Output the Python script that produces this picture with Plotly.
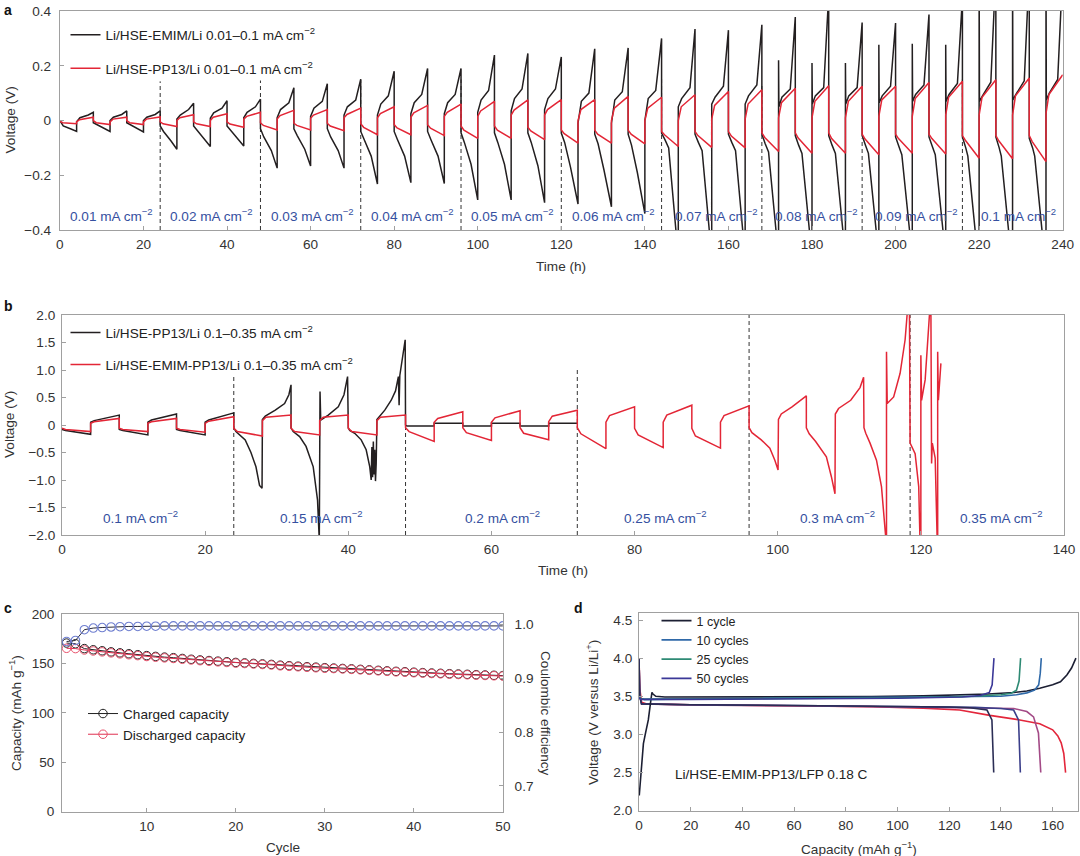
import plotly.graph_objects as go

W, H = 1080, 856
def px(x): return x / W
def py(y): return 1 - y / H

FONT = "Liberation Sans, Arial, sans-serif"
FS = 13.6
BLACK = "#231f20"
RED = "#e32636"
BLUE_TXT = "#3550a0"
CM2 = "mA cm<sup>\u22122</sup>"

# ---------------- Panel a data (half-cycles of 4 h) ----------------
A_HALF_T0 = [0, 4, 8, 12, 16, 20, 24, 28, 32, 36, 40, 44, 48, 52, 56, 60, 64, 68,
             72, 76, 80, 84, 88, 92, 96, 100, 104, 108, 112, 116, 120, 124, 128, 132,
             136, 140, 144, 148, 152, 156, 160, 164, 168, 172, 176, 180, 184, 188,
             192, 196, 200, 204, 208, 212, 216, 220, 224, 228, 232, 236]
A_HALF_DUR = 4
# black (Li/HSE-EMIM/Li): value after jump, at +0.8 h, at knee, at end
A_BLK_V0 = [0.0, -0.005, -0.008, 0.0, -0.008, 0.0,
            -0.02, 0.005, -0.02, 0.008, -0.02, 0.01,
            -0.03, 0.01, -0.03, 0.015, -0.03, 0.02,
            -0.04, 0.02, -0.04, 0.025, -0.04, 0.025,
            -0.045, 0.03, -0.045, 0.035, -0.045, 0.04,
            -0.046, -0.01, -0.05, -0.01, -0.05, 0.0,
            -0.046, 0.05, -0.05, 0.06, -0.05, 0.06,
            -0.05, 0.05, -0.055, 0.06, -0.055, 0.06,
            -0.055, 0.065, -0.06, 0.07, -0.06, 0.07,
            -0.06, 0.07, -0.06, 0.075, -0.065, 0.075]
A_BLK_V1 = [-0.02, 0.01, -0.015, 0.012, -0.015, 0.012,
            -0.04, 0.02, -0.035, 0.028, -0.035, 0.03,
            -0.06, 0.04, -0.055, 0.045, -0.06, 0.05,
            -0.07, 0.06, -0.07, 0.065, -0.07, 0.065,
            -0.08, 0.075, -0.08, 0.08, -0.08, 0.08,
            -0.08, 0.07, -0.085, 0.075, -0.09, 0.08,
            -0.07, 0.08, -0.08, 0.085, -0.08, 0.09,
            -0.085, 0.085, -0.09, 0.09, -0.09, 0.09,
            -0.09, 0.09, -0.095, 0.095, -0.095, 0.095,
            -0.1, 0.09, -0.1, 0.095, -0.1, 0.1]
A_BLK_TK = [2.8, 2.8, 2.8, 2.8, 2.8, 2.8,
            2.6, 2.8, 2.6, 2.8, 2.6, 2.8,
            2.6, 2.8, 2.6, 2.8, 2.6, 2.8,
            2.5, 2.6, 2.5, 2.6, 2.5, 2.6,
            2.4, 2.6, 2.4, 2.6, 2.4, 2.6,
            2.2, 2.6, 2.2, 2.6, 2.2, 2.6,
            1.7, 2.8, 1.7, 2.8, 1.7, 2.8,
            1.6, 2.8, 1.6, 2.8, 1.6, 2.8,
            1.5, 2.8, 1.5, 2.8, 1.5, 2.8,
            1.3, 2.8, 1.3, 2.8, 1.3, 2.8]
A_BLK_V2 = [-0.032, 0.02, -0.03, 0.022, -0.03, 0.022,
            -0.075, 0.04, -0.065, 0.045, -0.065, 0.05,
            -0.11, 0.065, -0.105, 0.07, -0.11, 0.075,
            -0.13, 0.09, -0.13, 0.095, -0.13, 0.095,
            -0.16, 0.11, -0.16, 0.115, -0.165, 0.115,
            -0.17, 0.1, -0.18, 0.105, -0.19, 0.11,
            -0.1, 0.12, -0.11, 0.125, -0.11, 0.13,
            -0.115, 0.115, -0.12, 0.12, -0.12, 0.12,
            -0.12, 0.125, -0.125, 0.13, -0.125, 0.135,
            -0.13, 0.14, -0.13, 0.145, -0.13, 0.15]
A_BLK_V3 = [-0.04, 0.03, -0.04, 0.035, -0.042, 0.035,
            -0.105, 0.063, -0.095, 0.072, -0.093, 0.078,
            -0.174, 0.12, -0.166, 0.134, -0.174, 0.151,
            -0.232, 0.18, -0.227, 0.19, -0.23, 0.19,
            -0.29, 0.239, -0.29, 0.245, -0.30, 0.232,
            -0.305, 0.262, -0.315, 0.265, -0.34, 0.30,
            -0.5, 0.334, -0.5, 0.33, -0.5, 0.35,
            -0.5, 0.378, -0.5, 0.46, -0.5, 0.358,
            -0.5, 0.356, -0.5, 0.387, -0.5, 0.45,
            -0.55, 0.55, -0.55, 0.55, -0.55, 0.55]
A_BLK_SPIKE = [None] * 43 + [0.22, None, 0.21, None, 0.21, None, 0.277, None, 0.28,
                             None, 0.277, None, 0.6, None, 0.6, None, 0.6]
# red (Li/HSE-PP13/Li): value after jump, at +0.7 h, at end
A_RED_V0 = [-0.003, -0.005, 0.0, -0.005, 0.0, -0.005,
            -0.005, 0.0, -0.005, 0.0, -0.005, 0.005,
            -0.008, 0.005, -0.01, 0.008, -0.01, 0.01,
            -0.012, 0.01, -0.015, 0.012, -0.015, 0.015,
            -0.02, 0.015, -0.02, 0.02, -0.025, 0.02,
            -0.035, 0.0, -0.035, 0.0, -0.035, 0.0,
            -0.04, 0.0, -0.04, 0.005, -0.04, 0.005,
            -0.045, 0.01, -0.045, 0.01, -0.045, 0.01,
            -0.05, 0.015, -0.05, 0.015, -0.05, 0.02,
            -0.055, 0.02, -0.055, 0.02, -0.055, 0.025]
A_RED_V1 = [-0.008, 0.003, -0.008, 0.005, -0.008, 0.005,
            -0.012, 0.01, -0.012, 0.012, -0.013, 0.015,
            -0.018, 0.018, -0.018, 0.02, -0.02, 0.022,
            -0.025, 0.025, -0.027, 0.028, -0.028, 0.03,
            -0.035, 0.035, -0.035, 0.038, -0.038, 0.04,
            -0.048, 0.04, -0.05, 0.045, -0.05, 0.045,
            -0.052, 0.05, -0.055, 0.055, -0.057, 0.06,
            -0.062, 0.065, -0.064, 0.07, -0.066, 0.07,
            -0.068, 0.075, -0.066, 0.08, -0.066, 0.085,
            -0.072, 0.085, -0.074, 0.09, -0.077, 0.095]
A_RED_V3 = [-0.012, 0.012, -0.015, 0.012, -0.015, 0.013,
            -0.022, 0.021, -0.022, 0.025, -0.025, 0.03,
            -0.035, 0.037, -0.035, 0.04, -0.037, 0.045,
            -0.052, 0.05, -0.052, 0.055, -0.055, 0.06,
            -0.065, 0.07, -0.065, 0.075, -0.07, 0.076,
            -0.083, 0.076, -0.083, 0.088, -0.085, 0.085,
            -0.095, 0.094, -0.098, 0.106, -0.10, 0.112,
            -0.113, 0.118, -0.12, 0.127, -0.12, 0.125,
            -0.125, 0.125, -0.12, 0.139, -0.122, 0.143,
            -0.138, 0.149, -0.14, 0.155, -0.15, 0.167]
A_DASH_T = [24, 48, 72, 96, 120, 144, 168, 192, 216]
A_DASH_TOP = [0.143, 0.146, 0.149, 0.15, -0.07, 0.155, 0.137, -0.065, 0.155]
A_RATE_LABELS = ["0.01", "0.02", "0.03", "0.04", "0.05", "0.06", "0.07", "0.08", "0.09", "0.1"]
A_RATE_X = [12.4, 36.4, 60.4, 84.4, 108.4, 132.6, 157.2, 181, 205, 229.5]
A_RATE_Y = -0.345

# ---------------- Panel b data ----------------
B_BLK_T = [0, 0.5, 4, 4, 4.5, 8, 8, 8.5, 12, 12, 12.5, 16, 16, 16.5, 20, 20, 20.5, 24,
           24, 24.3, 25.6, 26.4, 27.1, 27.6, 27.95,
           28, 28.4, 29.8, 31.1, 31.7, 32,
           32, 32.3, 33.2, 34.1, 35.1, 35.7, 35.95,
           36.05, 36.15, 37.2, 38.6, 39.4, 39.9,
           40, 40.2, 40.9, 41.8, 42.5, 43.0, 43.2, 43.3, 43.4, 43.5, 43.6, 43.7, 43.8, 43.9,
           44, 44.3, 45.1, 46, 46.6, 47.0, 47.1, 47.2, 47.4, 47.8, 47.95,
           48, 48.2, 52, 52, 56, 56, 60, 60, 64, 64, 68, 68, 72]
B_BLK_V = [-0.08, -0.1, -0.17, 0.05, 0.08, 0.18, -0.08, -0.1, -0.18, 0.05, 0.09, 0.2,
           -0.08, -0.1, -0.18, 0.05, 0.09, 0.22,
           -0.05, -0.12, -0.27, -0.5, -0.76, -1.1, -1.15,
           0.1, 0.16, 0.27, 0.39, 0.55, 0.73,
           -0.05, -0.12, -0.21, -0.39, -0.76, -1.36, -2.1,
           0.61, 0.09, 0.18, 0.33, 0.55, 0.88,
           -0.05, -0.1, -0.15, -0.27, -0.45, -0.76, -1.0, -0.4, -0.95, -0.3, -0.9, -0.45, -1.02, -0.7,
           0.1, 0.15, 0.27, 0.45, 0.62, 0.88, 0.36, 0.9, 1.1, 1.4, 1.55,
           0.0, -0.02, -0.02, 0.03, 0.03, -0.02, -0.02, 0.03, 0.03, -0.02, -0.02, 0.03, 0.03]
B_RED_T = [0, 0.5, 4, 4, 4.5, 8, 8, 8.5, 12, 12, 12.5, 16, 16, 16.5, 20, 20, 20.5, 24,
           24, 24.5, 28, 28, 28.5, 32, 32, 32.5, 36, 36, 36.5, 40, 40, 40.5, 44, 44, 44.5, 48,
           48, 48.5, 52, 52, 52.5, 56, 56, 56.5, 60, 60, 60.5, 64, 64, 64.5, 68, 68, 68.5, 72,
           72, 72.5, 76, 76, 76.5, 80, 80, 80.5, 84, 84, 84.5, 88, 88, 88.5, 92, 92, 92.5, 96,
           96, 96.4, 97.7, 98.9, 99.6, 100.05,
           100.1, 100.5, 102, 104,
           104, 104.4, 105.3, 106.8, 107.5, 108,
           108.05, 108.5, 110.2, 111.5, 112,
           112.05, 112.3, 112.9, 113.8, 114.5, 115.0, 115.1,
           115.2, 115.2, 115.3, 116.2, 117.1, 117.8, 118.2,
           118.4, 118.5, 119.2, 119.7, 119.9,
           120.0, 120.0, 120.1, 120.6, 121.1, 121.3,
           121.4, 121.5, 121.6, 122.0, 122.3,
           122.35, 122.35, 122.45, 122.8]
B_RED_V = [-0.06, -0.08, -0.12, 0.03, 0.06, 0.12, -0.06, -0.08, -0.12, 0.03, 0.06, 0.12,
           -0.06, -0.08, -0.13, 0.03, 0.07, 0.15,
           -0.06, -0.12, -0.2, 0.08, 0.14, 0.18, -0.06, -0.12, -0.18, 0.08, 0.14, 0.18,
           -0.06, -0.12, -0.18, 0.08, 0.14, 0.18,
           -0.05, -0.12, -0.3, 0.05, 0.12, 0.24, -0.05, -0.14, -0.28, 0.05, 0.13, 0.26,
           -0.05, -0.15, -0.27, 0.06, 0.16, 0.27,
           -0.05, -0.16, -0.43, 0.05, 0.17, 0.33, -0.06, -0.18, -0.41, 0.05, 0.18, 0.36,
           -0.06, -0.2, -0.42, 0.05, 0.17, 0.35,
           -0.05, -0.14, -0.27, -0.42, -0.64, -0.82,
           0.1, 0.2, 0.33, 0.53,
           -0.05, -0.16, -0.3, -0.58, -0.94, -1.25,
           0.2, 0.3, 0.45, 0.68, 0.87,
           -0.05, -0.15, -0.33, -0.64, -1.12, -1.9, -2.2,
           -2.2, 1.33, 0.39, 0.51, 0.94, 1.55, 2.2,
           2.2, -0.33, -0.52, -1.12, -2.2,
           -2.2, 1.27, 0.45, 0.82, 1.67, 2.2,
           2.2, -0.7, -0.33, -0.6, -2.2,
           -2.2, 1.33, 0.45, 1.12]
B_DASH_T = [24, 48, 72, 96, 118.5]
B_DASH_TOP = [0.88, 0.0, 1.0, 2.0, 2.0]
B_RATE_LABELS = ["0.1", "0.15", "0.2", "0.25", "0.3", "0.35"]
B_RATE_X = [11.0, 36.2, 61.5, 84.3, 108.4, 131.2]
B_RATE_Y = -1.67
B_YTICKS = [-2.0, -1.5, -1.0, -0.5, 0, 0.5, 1.0, 1.5, 2.0]
B_YTICKTEXT = ["\u22122.0", "\u22121.5", "\u22121.0", "\u22120.5", "0", "0.5", "1.0", "1.5", "2.0"]

# ---------------- Panel c data ----------------
C_CYCLE = list(range(1, 51))
C_CHARGE = [170.6, 169.9, 165.0, 163.8, 162.8, 161.7, 160.7, 159.8, 158.8, 157.9,
            157.1, 156.4, 155.8, 155.0, 154.2, 153.5, 152.9, 152.3, 151.7, 151.0,
            150.5, 150.0, 149.5, 149.0, 148.2, 147.7, 147.2, 146.7, 146.2, 145.7,
            145.3, 144.9, 144.5, 144.0, 143.5, 143.0, 142.5, 142.0, 141.6, 141.1,
            140.7, 140.3, 140.0, 139.6, 139.3, 139.0, 138.6, 138.3, 138.0, 137.7]
C_DISCHARGE = [165.3, 165.0, 163.6, 162.6, 161.7, 160.7, 159.7, 158.8, 157.9, 157.0,
               156.3, 155.6, 155.0, 154.2, 153.5, 152.8, 152.2, 151.6, 151.0, 150.3,
               149.9, 149.4, 148.9, 148.4, 147.6, 147.1, 146.6, 146.1, 145.6, 145.1,
               144.8, 144.4, 144.0, 143.5, 143.0, 142.5, 142.0, 141.5, 141.1, 140.6,
               140.2, 139.8, 139.5, 139.1, 138.8, 138.5, 138.1, 137.8, 137.5, 137.2]
C_CE = [0.968, 0.970, 0.990, 0.993, 0.994, 0.995, 0.9955, 0.996, 0.996, 0.9965,
        0.9965, 0.997, 0.997, 0.997, 0.997, 0.997, 0.997, 0.997, 0.997, 0.997,
        0.997, 0.997, 0.997, 0.997, 0.997, 0.997, 0.997, 0.997, 0.997, 0.997,
        0.997, 0.997, 0.997, 0.997, 0.997, 0.997, 0.997, 0.997, 0.997, 0.997,
        0.997, 0.997, 0.997, 0.997, 0.997, 0.997, 0.997, 0.997, 0.997, 0.997]

# ---------------- Panel d data ----------------
D_CH1_X = [0.1, 0.8, 1.7, 2.6, 3.6, 4.4, 5.0, 5.4, 6.5, 10, 30, 60, 90, 110, 125, 135, 145,
           150, 155, 160, 163, 165.5, 167.3, 169]
D_CH1_Y = [2.2, 2.5, 2.88, 3.03, 3.19, 3.4, 3.55, 3.53, 3.5, 3.49, 3.49, 3.49, 3.495, 3.505,
           3.515, 3.53, 3.55, 3.57, 3.605, 3.65, 3.69, 3.78, 3.87, 4.0]
D_CH10_X = [0, 0.6, 2, 20, 60, 100, 130, 140, 146, 150, 153, 154.6, 155.2, 155.6]
D_CH10_Y = [3.5, 3.47, 3.46, 3.465, 3.47, 3.48, 3.49, 3.5, 3.52, 3.545, 3.58, 3.65, 3.8, 4.0]
D_CH25_X = [0, 0.6, 2, 20, 60, 100, 130, 140, 144, 146, 147, 147.6]
D_CH25_Y = [3.5, 3.47, 3.46, 3.465, 3.47, 3.48, 3.5, 3.52, 3.54, 3.58, 3.7, 4.0]
D_CH50_X = [0, 1, 20, 60, 100, 125, 132, 135.5, 136.6, 137.3]
D_CH50_Y = [3.48, 3.46, 3.46, 3.465, 3.475, 3.49, 3.51, 3.55, 3.65, 4.0]
D_DC1_X = [0, 0.3, 1, 3, 20, 60, 90, 110, 124, 135.7, 147.3, 155, 160, 162, 163.3, 164.3, 165]
D_DC1_Y = [4.0, 3.6, 3.42, 3.4, 3.39, 3.38, 3.365, 3.345, 3.32, 3.25, 3.19, 3.14, 3.06, 2.98,
           2.89, 2.75, 2.5]
D_DC10_X = [0, 0.3, 1, 20, 60, 100, 130, 145, 150, 152.6, 154.5, 155.0, 155.4]
D_DC10_Y = [4.0, 3.5, 3.4, 3.385, 3.375, 3.36, 3.35, 3.34, 3.3, 3.23, 3.02, 2.8, 2.5]
D_DC25_X = [0, 0.3, 1, 20, 60, 100, 130, 140, 144.9, 146.8, 147.2, 147.5]
D_DC25_Y = [4.0, 3.5, 3.4, 3.39, 3.38, 3.365, 3.355, 3.34, 3.32, 3.19, 2.9, 2.5]
D_DC50_X = [0, 0.3, 1, 20, 60, 100, 120, 128, 134.6, 136.5, 136.9, 137.2]
D_DC50_Y = [4.0, 3.5, 3.4, 3.39, 3.38, 3.37, 3.36, 3.35, 3.32, 3.19, 2.9, 2.5]
D_CH_NAMES = ["1 cycle", "10 cycles", "25 cycles", "50 cycles"]
D_CH_COLORS = ["#1c1f33", "#2f69a8", "#2e8a74", "#3b3898"]
D_DC_COLORS = ["#e3263b", "#a34a86", "#3b3f8a", "#2b2d55"]

# ---------------- build figure ----------------
fig = go.Figure()

# panel a
bx, by = [], []
for i, t0 in enumerate(A_HALF_T0):
    if A_BLK_SPIKE[i] is not None:
        bx += [t0, t0 + 0.08]
        by += [A_BLK_SPIKE[i], A_BLK_V0[i]]
    else:
        bx.append(t0)
        by.append(A_BLK_V0[i])
    bx += [t0 + 0.8, t0 + A_BLK_TK[i], t0 + A_HALF_DUR]
    by += [A_BLK_V1[i], A_BLK_V2[i], A_BLK_V3[i]]
rx, ry = [], []
for i, t0 in enumerate(A_HALF_T0):
    rx += [t0, t0 + 0.7, t0 + A_HALF_DUR]
    ry += [A_RED_V0[i], A_RED_V1[i], A_RED_V3[i]]

dx, dy = [], []
for t, top in zip(A_DASH_T, A_DASH_TOP):
    dx += [t, t, None]
    dy += [-0.4, top, None]
fig.add_trace(go.Scatter(x=dx, y=dy, mode="lines", line=dict(color="#333", width=1, dash="4px,3px"),
                         xaxis="x", yaxis="y", showlegend=False, hoverinfo="skip"))
fig.add_trace(go.Scatter(x=bx, y=by, mode="lines", line=dict(color=BLACK, width=1.5),
                         name="Li/HSE-EMIM/Li 0.01\u20130.1 " + CM2,
                         xaxis="x", yaxis="y", legend="legend", legendgroup="a1"))
fig.add_trace(go.Scatter(x=rx, y=ry, mode="lines", line=dict(color=RED, width=1.5),
                         name="Li/HSE-PP13/Li 0.01\u20130.1 " + CM2,
                         xaxis="x", yaxis="y", legend="legend", legendgroup="a2"))

# panel b
dx, dy = [], []
for t, top in zip(B_DASH_T, B_DASH_TOP):
    dx += [t, t, None]
    dy += [-2.0, top, None]
fig.add_trace(go.Scatter(x=dx, y=dy, mode="lines", line=dict(color="#333", width=1, dash="4px,3px"),
                         xaxis="x2", yaxis="y2", showlegend=False, hoverinfo="skip"))
fig.add_trace(go.Scatter(x=B_BLK_T, y=B_BLK_V, mode="lines", line=dict(color=BLACK, width=1.5),
                         name="Li/HSE-PP13/Li 0.1\u20130.35 " + CM2,
                         xaxis="x2", yaxis="y2", legend="legend2", legendgroup="b1"))
fig.add_trace(go.Scatter(x=B_RED_T, y=B_RED_V, mode="lines", line=dict(color=RED, width=1.5),
                         name="Li/HSE-EMIM-PP13/Li 0.1\u20130.35 " + CM2,
                         xaxis="x2", yaxis="y2", legend="legend2", legendgroup="b2"))

# panel c
fig.add_trace(go.Scatter(x=C_CYCLE, y=C_CE, mode="lines+markers",
                         line=dict(color="#2a2a3a", width=1),
                         marker=dict(symbol="circle-open", size=8.5, color="#6f7fd0", line=dict(width=1.1)),
                         xaxis="x3", yaxis="y4", showlegend=False))
fig.add_trace(go.Scatter(x=C_CYCLE, y=C_CHARGE, mode="lines+markers",
                         line=dict(color="#222222", width=1),
                         marker=dict(symbol="circle-open", size=8.5, color="#222222", line=dict(width=1)),
                         name="Charged capacity", xaxis="x3", yaxis="y3",
                         legend="legend3", legendgroup="c1"))
fig.add_trace(go.Scatter(x=C_CYCLE, y=C_DISCHARGE, mode="lines+markers",
                         line=dict(color="#e03050", width=1),
                         marker=dict(symbol="circle-open", size=8.5, color="#e8506a", line=dict(width=1)),
                         name="Discharged capacity", xaxis="x3", yaxis="y3",
                         legend="legend3", legendgroup="c2"))

# panel d
dc = [(D_DC1_X, D_DC1_Y), (D_DC10_X, D_DC10_Y), (D_DC25_X, D_DC25_Y), (D_DC50_X, D_DC50_Y)]
for (xx, yy), col in zip(dc, D_DC_COLORS):
    fig.add_trace(go.Scatter(x=xx, y=yy, mode="lines", line=dict(color=col, width=1.6),
                             xaxis="x5", yaxis="y5", showlegend=False))
ch = [(D_CH1_X, D_CH1_Y), (D_CH10_X, D_CH10_Y), (D_CH25_X, D_CH25_Y), (D_CH50_X, D_CH50_Y)]
for k, ((xx, yy), col, nm) in enumerate(zip(ch, D_CH_COLORS, D_CH_NAMES)):
    fig.add_trace(go.Scatter(x=xx, y=yy, mode="lines", line=dict(color=col, width=1.6),
                             name=nm, xaxis="x5", yaxis="y5", legend="legend4",
                             legendgroup="d%d" % k))

# ---------------- axes ----------------
ax = dict(showline=True, linecolor="#a0a0a0", linewidth=1, mirror=True, ticks="inside",
          ticklen=4, tickcolor="#a0a0a0", tickwidth=1, showgrid=False, zeroline=False,
          automargin=False, tickfont=dict(size=FS, color="#333"))

fig.update_layout(
    xaxis=dict(ax, domain=[px(59.9), px(1062.7)], range=[0, 240], dtick=20, anchor="y",
               ticklabelstandoff=2),
    yaxis=dict(ax, domain=[py(230), py(11)], range=[-0.4, 0.4], dtick=0.2, anchor="x",
               ticklabelstandoff=5),
    xaxis2=dict(ax, domain=[px(62), px(1064)], range=[0, 140], dtick=20, anchor="y2",
                ticklabelstandoff=2),
    yaxis2=dict(ax, domain=[py(535), py(315)], range=[-2.0, 2.0], tickvals=B_YTICKS,
                ticktext=B_YTICKTEXT, anchor="x2", ticklabelstandoff=3),
    xaxis3=dict(ax, domain=[px(62.1), px(502.9)], range=[0.5, 50], tickvals=[10, 20, 30, 40, 50],
                anchor="y3", ticklabelstandoff=2),
    yaxis3=dict(ax, domain=[py(811.7), py(614)], range=[0, 200], dtick=50, anchor="x3",
                mirror=False, ticklabelstandoff=4),
    yaxis4=dict(ax, range=[0.6523, 1.0191], tickvals=[0.7, 0.8, 0.9, 1.0], tickformat=".1f",
                overlaying="y3", side="right", anchor="x3", mirror=False, ticklabelstandoff=8),
    xaxis5=dict(ax, domain=[px(639), px(1078)], range=[0, 169.8], dtick=20, anchor="y5",
                ticklabelstandoff=2),
    yaxis5=dict(ax, domain=[py(810.7), py(613.3)], range=[2.0, 4.588], dtick=0.5,
                tickformat=".1f", anchor="x5", ticklabelstandoff=3),
)

leg = dict(bgcolor="rgba(0,0,0,0)", borderwidth=0, font=dict(size=FS, color="#222"),
           xanchor="left", yanchor="top", traceorder="grouped")
fig.update_layout(
    legend=dict(leg, x=px(65.5), y=py(19.3), tracegroupgap=12.9),
    legend2=dict(leg, x=px(65.5), y=py(317.1), tracegroupgap=11.5),
    legend3=dict(leg, x=px(83), y=py(698.2), tracegroupgap=0),
    legend4=dict(leg, x=px(656.5), y=py(606), tracegroupgap=0,
                 font=dict(size=12.5, color="#222")),
)

ann = []
for lab, xv in zip(A_RATE_LABELS, A_RATE_X):
    ann.append(dict(x=xv, y=A_RATE_Y, xref="x", yref="y", text=lab + " " + CM2,
                    showarrow=False, font=dict(size=FS, color=BLUE_TXT)))
for lab, xv in zip(B_RATE_LABELS, B_RATE_X):
    ann.append(dict(x=xv, y=B_RATE_Y, xref="x2", yref="y2", text=lab + " " + CM2,
                    showarrow=False, font=dict(size=FS, color=BLUE_TXT)))
ann.append(dict(x=13, y=2.47, xref="x5", yref="y5", text="Li/HSE-EMIM-PP13/LFP 0.18 C",
                xanchor="left", showarrow=False, font=dict(size=FS, color="#222")))

def title(text, x, y, angle=0):
    return dict(x=px(x), y=py(y), xref="paper", yref="paper", text=text, showarrow=False,
                textangle=angle, xanchor="center", yanchor="middle", font=dict(size=FS, color="#333"))

ann += [
    title("Time (h)", 561, 266),
    title("Voltage (V)", 10, 120.5, -90),
    title("Time (h)", 563, 570),
    title("Voltage (V)", 9, 425, -90),
    title("Cycle", 282.5, 847),
    title("Capacity (mAh g<sup>\u22121</sup>)", 15, 713, -90),
    title("Coulombic efficiency", 546, 713, 90),
    title("Capacity (mAh g<sup>\u22121</sup>)", 858.5, 848),
    title("Voltage (V versus Li/Li<sup>+</sup>)", 592, 713, -90),
]
for lab, x, y in [("a", 2, 0), ("b", 2, 296), ("c", 2, 598), ("d", 572, 598)]:
    ann.append(dict(x=px(x), y=py(y), xref="paper", yref="paper", text="<b>%s</b>" % lab,
                    showarrow=False, xanchor="left", yanchor="top",
                    font=dict(size=14, color="#111")))

fig.update_layout(
    width=W, height=H, margin=dict(l=0, r=0, t=0, b=0),
    paper_bgcolor="white", plot_bgcolor="white",
    font=dict(family=FONT, size=FS, color="#333"),
    annotations=ann,
)

fig.write_html("out.html", config={"displayModeBar": False},
               post_script="document.body.style.margin='0px';"
                           "document.body.style.overflow='hidden';")
